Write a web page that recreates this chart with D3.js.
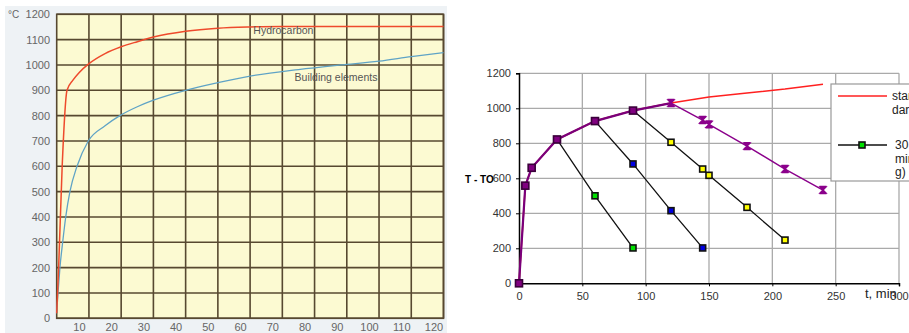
<!DOCTYPE html>
<html><head><meta charset="utf-8">
<script src="https://cdn.jsdelivr.net/npm/d3@7"></script>
<style>
html,body{margin:0;padding:0;background:#fff;overflow:hidden}
svg{display:block}
</style></head>
<body>
<svg id="c" width="909" height="333"></svg>
<script>
// ---------- Left chart data ----------
const leftXTicks = [10,20,30,40,50,60,70,80,90,100,110,120];
const leftYTicks = [0,100,200,300,400,500,600,700,800,900,1000,1100,1200];
const hcTime  = [0, 0.6, 1.7, 3.2, 5.1, 7, 10, 15, 20, 25, 30, 40, 50, 60, 70, 90, 120];
const hcTemp  = [20, 200, 600, 900, 941, 970, 1005, 1045, 1072, 1092, 1110, 1133, 1145, 1150, 1152, 1152, 1152];
const bldTime = [0, 0.4, 1.0, 1.85, 2.8, 4.1, 6.3, 9.8, 15, 19.6, 25, 30, 40, 50, 60, 75, 88, 100, 110, 120];
const bldTemp = [20, 100, 200, 300, 400, 500, 600, 700, 760, 800, 835, 861, 900, 930, 956, 982, 1000, 1015, 1033, 1049];
const leftLabels = ["Hydrocarbon", "Building elements"];

// ---------- Right chart data ----------
const rightXTicks = [0,50,100,150,200,250,300];
const rightYTicks = [0,200,400,600,800,1000,1200];
const stdTime  = [0,5,10,30,60,90,120,150,180,210,240];
const stdTemp  = [0,558,660,822,927,987,1030,1064,1088,1110,1137];
const heatTime = [0,5,10,30,60,90,120];
const heatTemp = [0,558,660,822,927,987,1030];
const c30Time  = [30,60,90];
const c30Temp  = [822,500,202];
const c60Time  = [60,90,120,145];
const c60Temp  = [927,682,415,202];
const c90Time  = [90,120,145,150,180,210];
const c90Temp  = [987,806,653,617,434,247];
const c120Time = [120,145,150,180,210,240];
const c120Temp = [1030,933,908,784,653,533];
const legendLines = [["stan","dard"], ["30","min","g)"]];

const zip = (a,b) => a.map((t,i)=>({t, v:b[i]}));
const svg = d3.select("#c");

// ================= LEFT CHART =================
svg.append("rect").attr("x",5).attr("y",6).attr("width",442).attr("height",327).attr("fill","#eef2f5");

const lx = d3.scaleLinear().domain([0,120]).range([56.7,443.5]);
const ly = d3.scaleLinear().domain([0,1200]).range([318.3,14.3]);
const L = svg.append("g");
L.append("rect").attr("x",lx(0)).attr("y",ly(1200)).attr("width",lx(120)-lx(0)).attr("height",ly(0)-ly(1200))
  .attr("fill","#fcfad2");
const gridC = "#574830";
L.selectAll(".vg").data(leftXTicks).join("line")
  .attr("x1",d=>lx(d)).attr("x2",d=>lx(d)).attr("y1",ly(1200)).attr("y2",ly(0))
  .attr("stroke",gridC).attr("stroke-width",1.6);
L.selectAll(".hg").data(leftYTicks).join("line")
  .attr("x1",lx(0)).attr("x2",lx(120)).attr("y1",d=>ly(d)).attr("y2",d=>ly(d))
  .attr("stroke",gridC).attr("stroke-width",1.6);
L.append("rect").attr("x",lx(0)).attr("y",ly(1200)).attr("width",lx(120)-lx(0)).attr("height",ly(0)-ly(1200))
  .attr("fill","none").attr("stroke",gridC).attr("stroke-width",1.6);

const lline = d3.line().x(d=>lx(d.t)).y(d=>ly(d.v)).curve(d3.curveMonotoneX);
L.append("path").attr("d",lline(zip(bldTime,bldTemp))).attr("fill","none").attr("stroke","#5fa3c6").attr("stroke-width",1.3);
L.append("path").attr("d",lline(zip(hcTime,hcTemp))).attr("fill","none").attr("stroke","#ee4a2c").attr("stroke-width",1.5);

const lf = "Liberation Sans, Arial, sans-serif";
L.selectAll(".yl").data(leftYTicks).join("text")
  .attr("x",50).attr("y",d=>ly(d)+4).attr("text-anchor","end")
  .attr("font-family",lf).attr("font-size",11).attr("fill","#666").text(d=>d);
L.append("text").attr("x",8).attr("y",ly(1200)+4).attr("font-family",lf).attr("font-size",10).attr("fill","#666").text("°C");
L.selectAll(".xl").data(leftXTicks).join("text")
  .attr("x",d=>lx(d)-9.5).attr("y",331).attr("text-anchor","middle")
  .attr("font-family",lf).attr("font-size",11).attr("fill","#666").text(d=>d);
L.append("text").attr("x",lx(61)).attr("y",ly(1122)).attr("font-family",lf).attr("font-size",10.5).attr("fill","#555").text(leftLabels[0]);
L.append("text").attr("x",lx(73.8)).attr("y",ly(938)).attr("font-family",lf).attr("font-size",10.5).attr("fill","#555").text(leftLabels[1]);

// ================= RIGHT CHART =================
const rx = d3.scaleLinear().domain([0,300]).range([519,899]);
const ry = d3.scaleLinear().domain([0,1200]).range([283.3,73.3]);
const R = svg.append("g");
R.selectAll(".rvg").data(rightXTicks.slice(1)).join("line")
  .attr("x1",d=>rx(d)).attr("x2",d=>rx(d)).attr("y1",ry(1200)).attr("y2",ry(0))
  .attr("stroke","#aaa").attr("stroke-width",1.3);
R.selectAll(".rhg").data(rightYTicks.slice(1)).join("line")
  .attr("x1",rx(0)).attr("x2",rx(300)).attr("y1",d=>ry(d)).attr("y2",d=>ry(d))
  .attr("stroke","#aaa").attr("stroke-width",1.3);

const yAx = d3.axisLeft(ry).tickValues(rightYTicks).tickFormat(d3.format("d")).tickSize(3).tickPadding(5);
const xAx = d3.axisBottom(rx).tickValues(rightXTicks).tickFormat(d3.format("d")).tickSize(3).tickPadding(6);
const ya = R.append("g").attr("transform",`translate(${rx(0)},0)`).call(yAx);
const xa = R.append("g").attr("transform",`translate(0,${ry(0)})`).call(xAx);
[ya,xa].forEach(a=>{
  a.select(".domain").attr("stroke","#000").attr("stroke-width",1.5);
  a.selectAll(".tick line").attr("stroke","#000");
  a.selectAll("text").attr("font-family",lf).attr("font-size",11).attr("fill","#333");
});

const rline = d3.line().x(d=>rx(d.t)).y(d=>ry(d.v));
R.append("path").attr("d",rline(zip(stdTime,stdTemp))).attr("fill","none").attr("stroke","#ff2020").attr("stroke-width",1.5);
const blk = "#111";
[[c30Time,c30Temp],[c60Time,c60Temp],[c90Time,c90Temp]].forEach(([t,v])=>{
  R.append("path").attr("d",rline(zip(t,v))).attr("fill","none").attr("stroke",blk).attr("stroke-width",1.3);
});
R.append("path").attr("d",rline(zip(c120Time,c120Temp))).attr("fill","none").attr("stroke","#8b008b").attr("stroke-width",1.4);
R.append("path").attr("d",rline(zip(heatTime,heatTemp))).attr("fill","none").attr("stroke","#7a007a").attr("stroke-width",2.2);

function squares(data, fill, stroke, size){
  R.selectAll(null).data(data).join("rect")
    .attr("x",d=>rx(d.t)-size/2).attr("y",d=>ry(d.v)-size/2).attr("width",size).attr("height",size)
    .attr("fill",fill).attr("stroke",stroke).attr("stroke-width",1.6);
}
squares(zip(c30Time,c30Temp).slice(1),"#00e000","#111",6);
squares(zip(c60Time,c60Temp).slice(1),"#0000e0","#111",6);
squares(zip(c90Time,c90Temp).slice(1),"#ffff00","#111",6);
squares(zip(heatTime,heatTemp).filter(d=>d.t<c120Time[0]),"#800080","#3a003a",7);
// hourglass markers
const hg = "M-3.5,-3.5 H3.5 M-3.5,3.5 H3.5 M-3,-3 L3,-3 L0,0 Z M-3,3 L3,3 L0,0 Z";
R.selectAll(null).data(zip(c120Time,c120Temp)).join("path")
  .attr("transform",d=>`translate(${rx(d.t)},${ry(d.v)})`).attr("d",hg)
  .attr("fill","#8b008b").attr("stroke","#8b008b").attr("stroke-width",1.4);

R.append("text").attr("x",465).attr("y",183).attr("font-family",lf).attr("font-size",10).attr("font-weight","bold").attr("fill","#000").text("T - TO");
R.append("text").attr("x",865).attr("y",298).attr("font-family",lf).attr("font-size",13).attr("fill","#222").text("t, min");

// legend
const lg = R.append("g");
lg.append("rect").attr("x",831).attr("y",84).attr("width",110).attr("height",97).attr("fill","#fff").attr("stroke","#999").attr("stroke-width",1.2);
lg.append("line").attr("x1",838).attr("x2",887).attr("y1",96).attr("y2",96).attr("stroke","#ff2020").attr("stroke-width",1.5);
lg.append("line").attr("x1",838).attr("x2",887).attr("y1",145).attr("y2",145).attr("stroke",blk).attr("stroke-width",1.3);
lg.append("rect").attr("x",859).attr("y",142).attr("width",6).attr("height",6).attr("fill","#00e000").attr("stroke","#111").attr("stroke-width",1.6);
const ly0 = [100, 149];
const lxs = [892, 895];
legendLines.forEach((lines,i)=>{
  const t = lg.append("text").attr("font-family",lf).attr("font-size",12).attr("fill","#222");
  lines.forEach((s,j)=>t.append("tspan").attr("x",lxs[i]).attr("y",ly0[i]+j*13.5).text(s));
});
</script>
</body></html>
